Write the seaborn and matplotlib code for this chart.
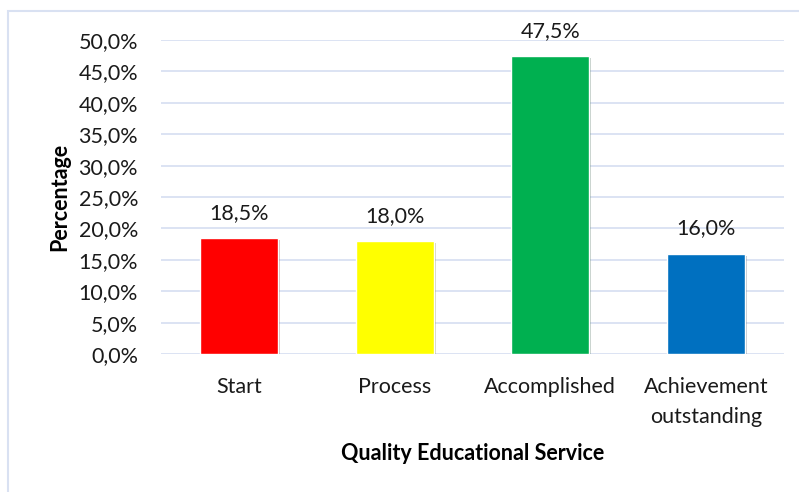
import matplotlib
matplotlib.use("Agg")
import matplotlib.pyplot as plt
import matplotlib.patheffects as pe
from matplotlib.patches import Rectangle
from matplotlib.ticker import FuncFormatter, MultipleLocator
import seaborn as sns
import pandas as pd

categories = ["Start", "Process", "Accomplished", "Achievement\noutstanding"]
values = [18.5, 18.0, 47.5, 16.0]
colors = ["#FF0000", "#FFFF00", "#00B050", "#0070C0"]
x_title = "Quality Educational Service"
y_title = "Percentage"

sns.set_theme(style="white")
plt.rcParams["font.family"] = ["Lato", "DejaVu Sans"]

df = pd.DataFrame({"cat": categories, "val": values})

fig = plt.figure(figsize=(7.99, 4.92), dpi=100)
ax = fig.add_axes([161 / 799, 1 - 354 / 492, (784 - 161) / 799, (354 - 40) / 492])

sns.barplot(data=df, x="cat", y="val", hue="cat", palette=colors, legend=False,
            width=0.5, ax=ax, saturation=1, zorder=3)

for p in ax.patches:
    p.set_path_effects([pe.SimplePatchShadow(offset=(1.5, -1.5), alpha=0.25), pe.Normal()])

FS = 15.5
ax.set_ylim(0, 50)
ax.yaxis.set_major_locator(MultipleLocator(5))
ax.yaxis.set_major_formatter(FuncFormatter(lambda v, _: f"{v:.1f}%".replace(".", ",")))
ax.grid(axis="y", color="#D9E1F2", lw=1.3, zorder=0)
ax.set_axisbelow(True)
for s in ax.spines.values():
    s.set_visible(False)

ax.tick_params(axis="y", length=0, pad=16.5, labelsize=FS, labelcolor="#1a1a1a")
ax.tick_params(axis="x", length=0, pad=16.5, labelsize=FS, labelcolor="#1a1a1a")
for t in ax.get_xticklabels():
    t.set_linespacing(1.65)

for i, v in enumerate(values):
    ax.annotate(f"{v:.1f}%".replace(".", ","), (i, v), xytext=(0, 18), textcoords="offset points",
                ha="center", va="center", fontsize=FS, color="#1a1a1a")

ax.set_xlabel(x_title, fontsize=FS, fontweight="bold", labelpad=11, color="#000000")
ax.set_ylabel(y_title, fontsize=FS, fontweight="bold", labelpad=6, color="#000000")

fig.add_artist(Rectangle((8 / 799, -0.1), 1.2, 1 - 11 / 492 + 0.1, transform=fig.transFigure,
                         fill=False, edgecolor="#D9E1F2", lw=1.5))

fig.savefig("out.png", dpi=100, facecolor="white")
